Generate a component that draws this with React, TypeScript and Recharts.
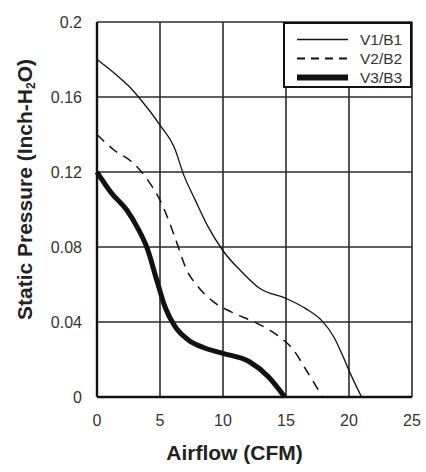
import { LineChart, Line, XAxis, YAxis, CartesianGrid, Legend } from 'recharts';

// airflow (CFM) / static pressure (inch H2O)
const v1Flow = [0, 1.5, 2.5, 3.3, 5, 6.2, 6.85, 7.8, 8.8, 10, 11.6, 12.9, 15, 16.6, 17.8, 18.8, 19.5, 20.1, 21];
const v1Pressure = [0.18, 0.172, 0.166, 0.16, 0.145, 0.132, 0.119, 0.105, 0.091, 0.078, 0.066, 0.058, 0.0526, 0.047, 0.041, 0.032, 0.022, 0.0126, 0];

const v2Flow = [0, 1.3, 2.9, 4.1, 5, 5.7, 6.4, 7.1, 8, 9.2, 10.6, 12.7, 14.3, 15.6, 16.6, 17.9];
const v2Pressure = [0.14, 0.132, 0.1246, 0.115, 0.105, 0.094, 0.081, 0.068, 0.059, 0.051, 0.0455, 0.0393, 0.033, 0.025, 0.0144, 0];

const v3Flow = [0, 1.17, 2.36, 3.2, 4, 4.74, 5.4, 6.2, 7.25, 8.6, 10, 12.1, 13.6, 14.9];
const v3Pressure = [0.12, 0.1086, 0.0997, 0.0905, 0.079, 0.0624, 0.048, 0.0375, 0.0304, 0.026, 0.0233, 0.0188, 0.0108, 0];

const xTicks = [0, 5, 10, 15, 20, 25];
const yTicks = [0, 0.04, 0.08, 0.12, 0.16, 0.2];

const seriesNames = ['V1/B1', 'V2/B2', 'V3/B3'];

const toPoints = (xs: number[], ys: number[]) => xs.map((x, i) => ({ flow: x, pressure: ys[i] }));

const FONT = '"Liberation Sans", Arial, sans-serif';
const INK = '#111';

const series = [
  { name: seriesNames[0], data: toPoints(v1Flow, v1Pressure), width: 1.3, dash: undefined },
  { name: seriesNames[1], data: toPoints(v2Flow, v2Pressure), width: 1.5, dash: '10 7' },
  { name: seriesNames[2], data: toPoints(v3Flow, v3Pressure), width: 5, dash: undefined },
];

function LegendBox() {
  const swatch = [
    { width: 1.3, dash: undefined },
    { width: 1.8, dash: '8 6' },
    { width: 6, dash: undefined },
  ];
  return (
    <div
      style={{
        boxSizing: 'border-box',
        width: 129,
        height: 66,
        border: `2px solid ${INK}`,
        background: '#fff',
        paddingTop: 6,
        fontFamily: FONT,
      }}
    >
      {seriesNames.map((name, i) => (
        <div key={name} style={{ display: 'flex', alignItems: 'center', height: 19 }}>
          <svg width={75} height={19} style={{ display: 'block' }}>
            <line x1={12} x2={63} y1={9.5} y2={9.5} stroke={INK} strokeWidth={swatch[i].width} strokeDasharray={swatch[i].dash} />
          </svg>
          <span style={{ fontSize: 15.5, color: '#333', lineHeight: '19px' }}>{name}</span>
        </div>
      ))}
    </div>
  );
}

export default function App() {
  return (
    <div style={{ position: 'absolute', left: 0, top: 0, background: '#fff' }}>
      <LineChart width={426} height={472} margin={{ top: 22, right: 14, bottom: 0, left: 0 }}>
        <CartesianGrid stroke="#2a2a2a" strokeWidth={1.6} horizontalValues={yTicks} verticalValues={xTicks} />
        <XAxis
          type="number"
          dataKey="flow"
          domain={[0, 25]}
          ticks={xTicks}
          height={75}
          tickSize={0}
          tickMargin={18}
          axisLine={{ stroke: INK, strokeWidth: 2.4 }}
          tick={{ fill: '#333', fontSize: 16, fontFamily: FONT }}
          label={{
            content: (p: any) => (
              <text
                x={p.viewBox.x + p.viewBox.width / 2 - 20}
                y={p.viewBox.y + 63}
                textAnchor="middle"
                fontFamily={FONT}
                fontSize={21}
                fontWeight="bold"
                fill="#222"
              >
                Airflow (CFM)
              </text>
            ),
          }}
        />
        <YAxis
          type="number"
          domain={[0, 0.2]}
          ticks={yTicks}
          width={97}
          tickSize={0}
          tickMargin={15}
          axisLine={{ stroke: INK, strokeWidth: 2.4 }}
          tick={{ fill: '#333', fontSize: 16, fontFamily: FONT }}
          label={{
            content: (p: any) => {
              const cx = 32;
              const cy = p.viewBox.y + p.viewBox.height / 2 - 20;
              return (
                <text
                  x={cx}
                  y={cy}
                  transform={`rotate(-90 ${cx} ${cy})`}
                  textAnchor="middle"
                  fontFamily={FONT}
                  fontSize={21}
                  fontWeight="bold"
                  fill="#222"
                >
                  Static Pressure (Inch-H
                  <tspan fontSize={12} dy={3}>2</tspan>
                  <tspan dy={-3}>O)</tspan>
                </text>
              );
            },
          }}
        />
        {series.map((s) => (
          <Line
            key={s.name}
            name={s.name}
            data={s.data}
            dataKey="pressure"
            type="monotone"
            stroke={INK}
            strokeWidth={s.width}
            strokeDasharray={s.dash}
            dot={false}
            activeDot={false}
            isAnimationActive={false}
          />
        ))}
        <Legend
          layout="vertical"
          align="center"
          verticalAlign="middle"
          content={() => <LegendBox />}
          wrapperStyle={{ left: 283, top: 22, width: 129, height: 66 }}
        />
      </LineChart>
    </div>
  );
}
